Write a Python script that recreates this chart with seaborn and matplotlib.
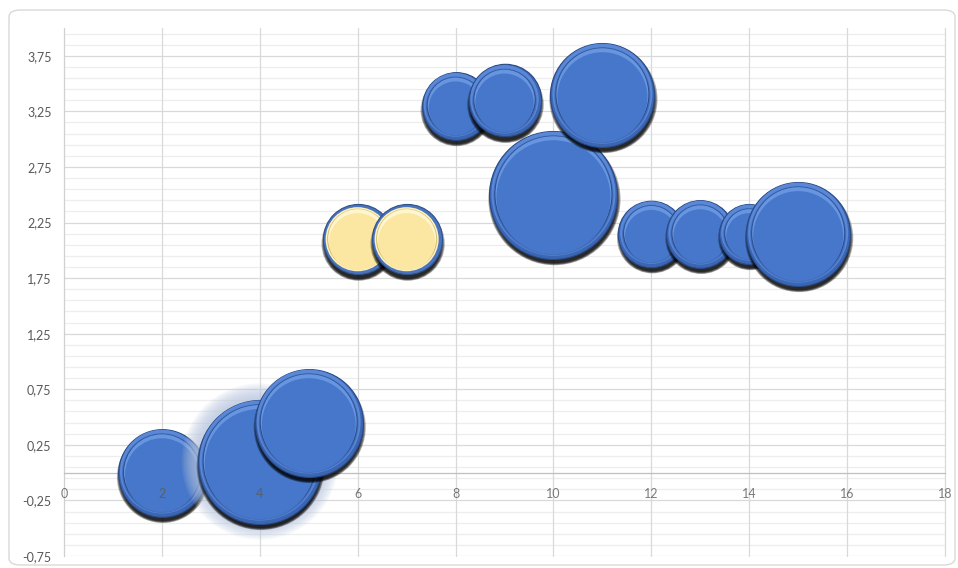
import numpy as np
import pandas as pd
import matplotlib
matplotlib.use("Agg")
import matplotlib.pyplot as plt
import matplotlib.transforms as mtrans
from matplotlib.patches import FancyBboxPatch
from matplotlib.ticker import FuncFormatter, FixedLocator
import seaborn as sns

# ---- data ----
x_values = [2, 4, 5, 6, 7, 8, 9, 10, 11, 12, 13, 14, 15]
y_values = [0.0, 0.1, 0.45, 2.1, 2.1, 3.3, 3.35, 2.5, 3.4, 2.15, 2.15, 2.15, 2.15]
bubble_sizes = [4.7, 9.4, 7.1, 3.0, 3.0, 2.8, 3.2, 10.0, 6.6, 2.7, 2.8, 2.2, 6.6]
series = ["Blue", "Blue", "Blue", "Yellow", "Yellow", "Blue", "Blue",
          "Blue", "Blue", "Blue", "Blue", "Blue", "Blue"]
glow_point = 4  # x of the highlighted (glowing) bubble
x_ticks = [0, 2, 4, 6, 8, 10, 12, 14, 16, 18]
y_ticks = [-0.75, -0.25, 0.25, 0.75, 1.25, 1.75, 2.25, 2.75, 3.25, 3.75]

df = pd.DataFrame({"x": x_values, "y": y_values, "size": bubble_sizes, "series": series})

sns.set_theme(style="white")
plt.rcParams["font.family"] = ["Lato", "DejaVu Sans"]

W, H = 958, 568
fig = plt.figure(figsize=(W / 100, H / 100), dpi=100)
fig.patch.set_facecolor("white")

# chart-area rounded border
fig.patches.append(FancyBboxPatch((9 / W, 3 / H), (946 / W), (555 / H),
                                  boxstyle="round,pad=0,rounding_size=0.012",
                                  transform=fig.transFigure, fc="none",
                                  ec="#D9D9D9", lw=1.0))

ax = fig.add_axes([64 / W, 1 - 556 / H, (945 - 64) / W, (556 - 28) / H])
ax.set_facecolor("white")

SMAX = 8493.0  # marker area (pt^2) for size value 10
NORM = 10.0


def disc(row, scale, color, zorder, dx=0.0, dy=0.0, alpha=1.0, ec="none", lw=0.0):
    tr = mtrans.offset_copy(ax.transData, fig=fig, x=dx, y=dy, units="dots")
    sns.scatterplot(data=row, x="x", y="y", size="size", size_norm=(0, NORM),
                    sizes=(0, SMAX * scale), legend=False, ax=ax, color=color,
                    edgecolor=ec, linewidth=lw, alpha=alpha, zorder=zorder,
                    transform=tr, clip_on=False)


for i in range(len(df)):
    row = df.iloc[[i]]
    z = 3 + i * 0.05
    r_px = 64.0 * np.sqrt(df["size"].iloc[i] / NORM)
    # glow
    if df["x"].iloc[i] == glow_point:
        for k in range(8):
            f = (r_px + 16 - 2 * k) / r_px
            disc(row, f * f, "#B7C5DE", z, alpha=0.15)
    # soft shadow
    for k in range(5):
        f = (r_px - 1.5 + k * 0.9) / r_px
        disc(row, f * f, "black", z + 0.001, dx=1, dy=-6 + k * 0.4, alpha=0.3)
    if df["series"].iloc[i] == "Blue":
        disc(row, 1.0, "#3A66B4", z + 0.002, ec="#284A87", lw=0.8)
        f = (r_px - 2) / r_px
        disc(row, f * f, "#5A88D6", z + 0.003, dy=1)
        f = (r_px - 4) / r_px
        disc(row, f * f, "#446FBE", z + 0.004, dy=-0.5)
        f = (r_px - 5) / r_px
        disc(row, f * f, "#2C4F8F", z + 0.005)
        f = (r_px - 6) / r_px
        disc(row, f * f, "#6795E0", z + 0.006, dy=0.5)
        f = (r_px - 7) / r_px
        disc(row, f * f, "#4677CA", z + 0.007, dy=-2.5)
    else:
        disc(row, 1.0, "#4A73BD", z + 0.002, ec="#2F528F", lw=0.8)
        f = (r_px - 3) / r_px
        disc(row, f * f, "#FFF2BC", z + 0.003)
        f = (r_px - 4.5) / r_px
        disc(row, f * f, "#D4BE73", z + 0.004)
        f = (r_px - 5.5) / r_px
        disc(row, f * f, "#FFF6CF", z + 0.005, dy=0.5)
        f = (r_px - 6.5) / r_px
        disc(row, f * f, "#FBE7A1", z + 0.006, dy=-2.5)

# ---- axes styling ----
ax.set_xlim(0, 18)
ax.set_ylim(-0.75, 4.0)
ax.set_xlabel("")
ax.set_ylabel("")

ax.set_xticks(x_ticks)
ax.set_xticklabels([str(t) for t in x_ticks])
ax.set_yticks(y_ticks)
ax.yaxis.set_major_formatter(FuncFormatter(lambda v, p: f"{v:.2f}".replace(".", ",")))
ax.yaxis.set_minor_locator(FixedLocator(np.arange(-0.75, 4.0001, 0.1)))

ax.tick_params(axis="both", which="both", length=0, labelsize=9, labelcolor="#595959")
ax.tick_params(axis="x", pad=11)
ax.tick_params(axis="y", pad=9)

ax.set_axisbelow(True)
ax.yaxis.grid(True, which="major", color="#D9D9D9", lw=0.9)
ax.yaxis.grid(True, which="minor", color="#EDEDED", lw=0.9)
ax.xaxis.grid(False)
for xv in x_ticks[1:]:
    ax.axvline(xv, color="#D9D9D9", lw=0.9, zorder=0.6, clip_on=False)

for s in ["top", "right"]:
    ax.spines[s].set_visible(False)
ax.spines["left"].set_color("#D0D0D0")
ax.spines["left"].set_linewidth(0.9)
ax.spines["bottom"].set_position(("data", 0))
ax.spines["bottom"].set_color("#BFBFBF")
ax.spines["bottom"].set_linewidth(0.9)
ax.xaxis.set_zorder(50)
for lbl in ax.get_xticklabels():
    lbl.set_alpha(0.8)

fig.savefig("out.png", dpi=100, facecolor="white")
